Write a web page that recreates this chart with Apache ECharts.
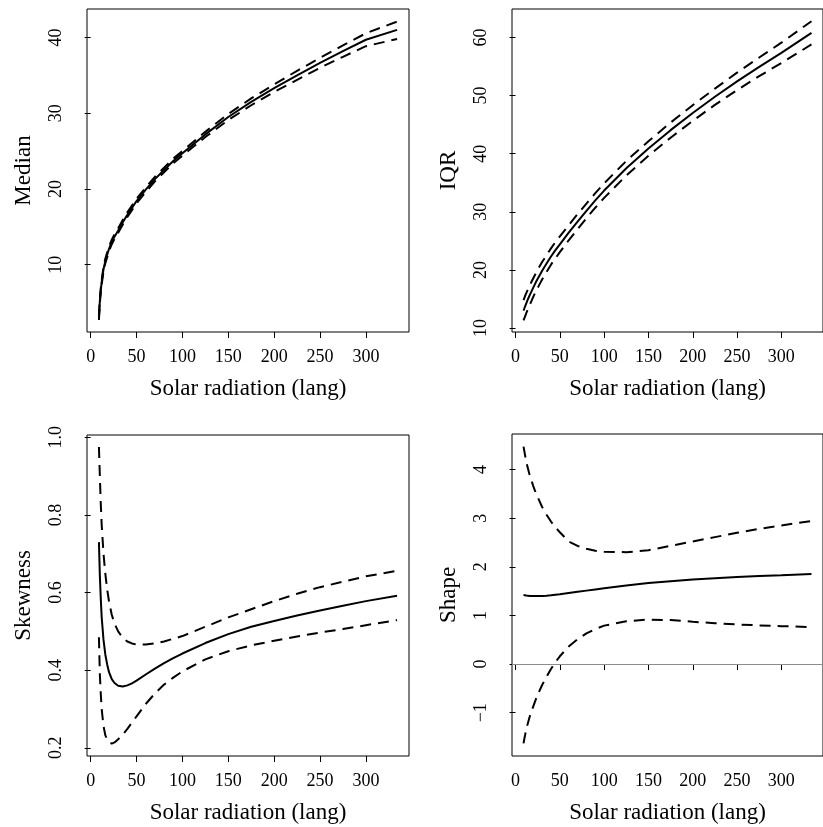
<!DOCTYPE html>
<html>
<head>
<meta charset="utf-8">
<script src="https://cdn.jsdelivr.net/npm/echarts@6/dist/echarts.min.js"></script>
<style>
  html, body { margin: 0; padding: 0; background: #fff; overflow: hidden; }
  #chart { width: 823px; height: 827px; }
</style>
</head>
<body>
<div id="chart"></div>
<script>
// solar radiation values where the fitted curves were evaluated
const radiation = [9, 10, 11, 12, 14, 16, 18, 20, 23, 26, 30, 35, 40, 45, 50, 60, 70, 80, 90, 100, 125, 150, 175, 200, 225, 250, 275, 300, 334];

const medianFit   = [3.0, 5.2, 6.6, 7.7, 9.4, 10.5, 11.3, 12.1, 13.0, 13.7, 14.5, 15.6, 16.6, 17.5, 18.4, 19.9, 21.3, 22.5, 23.7, 24.7, 27.2, 29.5, 31.5, 33.3, 35.0, 36.65, 38.2, 39.7, 41.0];
const medianUpper = [3.3, 5.5, 6.9, 8.0, 9.7, 10.8, 11.6, 12.4, 13.3, 14.0, 14.8, 15.9, 16.9, 17.8, 18.7, 20.2, 21.6, 22.8, 24.0, 25.0, 27.55, 29.9, 31.95, 33.8, 35.6, 37.3, 38.95, 40.55, 42.1];
const medianLower = [2.7, 4.9, 6.3, 7.4, 9.1, 10.2, 11.0, 11.8, 12.7, 13.4, 14.2, 15.3, 16.3, 17.2, 18.1, 19.6, 21.0, 22.2, 23.4, 24.4, 26.85, 29.1, 31.05, 32.8, 34.4, 36.0, 37.45, 38.85, 39.8];

const iqrFit   = [13.0, 13.4, 13.8, 14.2, 14.95, 15.65, 16.3, 16.95, 17.9, 18.75, 19.85, 21.1, 22.3, 23.4, 24.4, 26.4, 28.3, 30.15, 31.95, 33.65, 37.5, 40.9, 44.05, 47.0, 49.8, 52.45, 54.95, 57.35, 60.8];
const iqrUpper = [14.8, 15.2, 15.6, 15.95, 16.65, 17.3, 17.95, 18.55, 19.45, 20.3, 21.35, 22.55, 23.7, 24.8, 25.75, 27.7, 29.6, 31.4, 33.2, 34.9, 38.75, 42.15, 45.35, 48.35, 51.2, 53.95, 56.55, 59.1, 62.8];
const iqrLower = [11.3, 11.7, 12.1, 12.5, 13.25, 14.0, 14.65, 15.35, 16.35, 17.2, 18.35, 19.65, 20.9, 22.0, 23.05, 25.1, 27.0, 28.9, 30.7, 32.4, 36.25, 39.65, 42.75, 45.65, 48.4, 50.95, 53.35, 55.6, 58.8];

const skewFit   = [0.73, 0.645, 0.585, 0.537, 0.478, 0.44, 0.415, 0.395, 0.377, 0.367, 0.36, 0.358, 0.361, 0.366, 0.373, 0.389, 0.404, 0.418, 0.431, 0.443, 0.47, 0.493, 0.512, 0.527, 0.541, 0.554, 0.566, 0.578, 0.592];
const skewUpper = [0.975, 0.9, 0.83, 0.775, 0.7, 0.648, 0.608, 0.577, 0.543, 0.52, 0.5, 0.483, 0.474, 0.469, 0.466, 0.466, 0.469, 0.474, 0.481, 0.488, 0.512, 0.536, 0.557, 0.578, 0.597, 0.614, 0.628, 0.642, 0.656];
const skewLower = [0.485, 0.39, 0.34, 0.3, 0.256, 0.232, 0.222, 0.214, 0.211, 0.214, 0.222, 0.234, 0.249, 0.265, 0.281, 0.313, 0.34, 0.363, 0.381, 0.397, 0.428, 0.449, 0.464, 0.476, 0.487, 0.497, 0.506, 0.516, 0.529];

const shapeFit   = [1.42, 1.42, 1.415, 1.41, 1.405, 1.4, 1.398, 1.397, 1.397, 1.398, 1.4, 1.406, 1.415, 1.425, 1.435, 1.46, 1.485, 1.51, 1.535, 1.56, 1.615, 1.665, 1.705, 1.74, 1.765, 1.79, 1.81, 1.825, 1.85];
const shapeUpper = [4.47, 4.37, 4.27, 4.16, 4.02, 3.88, 3.77, 3.66, 3.51, 3.39, 3.23, 3.07, 2.93, 2.81, 2.71, 2.52, 2.43, 2.37, 2.33, 2.31, 2.3, 2.34, 2.43, 2.52, 2.61, 2.7, 2.78, 2.85, 2.94];
const shapeLower = [-1.63, -1.53, -1.44, -1.34, -1.21, -1.08, -0.97, -0.87, -0.72, -0.59, -0.43, -0.26, -0.1, 0.04, 0.16, 0.36, 0.51, 0.63, 0.72, 0.79, 0.88, 0.915, 0.905, 0.87, 0.84, 0.815, 0.795, 0.78, 0.76];

const xTicks = [0, 50, 100, 150, 200, 250, 300];
const medianTicks = [10, 20, 30, 40];
const iqrTicks = [10, 20, 30, 40, 50, 60];
const skewTicks = [0.2, 0.4, 0.6, 0.8, 1.0];
const shapeTicks = [-1, 0, 1, 2, 3, 4];

const xTitle = 'Solar radiation (lang)';
const font = 'Liberation Serif';

const panels = [
  { name: 'Median',   fit: medianFit, upper: medianUpper, lower: medianLower, ticks: medianTicks, min: 1.11,  max: 43.76, dec: 0,
    grid: { left: 87, top: 9, width: 322, height: 323 } },
  { name: 'IQR',      fit: iqrFit,    upper: iqrUpper,    lower: iqrLower,    ticks: iqrTicks,    min: 9.31,  max: 64.9,  dec: 0,
    grid: { left: 512, top: 9, width: 322, height: 323 } },
  { name: 'Skewness', fit: skewFit,   upper: skewUpper,   lower: skewLower,   ticks: skewTicks,   min: 0.179, max: 1.006, dec: 1,
    grid: { left: 87, top: 435, width: 322, height: 321 } },
  { name: 'Shape',    fit: shapeFit,  upper: shapeUpper,  lower: shapeLower,  ticks: shapeTicks,  min: -1.89, max: 4.73,  dec: 0,
    grid: { left: 512, top: 434, width: 322, height: 322 }, zeroLine: true }
];

function pairs(ys) {
  return radiation.map((x, i) => [x, ys[i]]);
}

const grids = [], xAxes = [], yAxes = [], series = [];

panels.forEach((p, k) => {
  grids.push(Object.assign({ show: true, borderColor: '#000', borderWidth: 1, backgroundColor: 'transparent' }, p.grid));
  xAxes.push({
    gridIndex: k, type: 'value', min: -4, max: 347,
    splitLine: { show: false },
    axisLine: { show: false },
    axisTick: { show: true, length: 6, customValues: xTicks, lineStyle: { color: '#000', width: 1 } },
    axisLabel: { customValues: xTicks, margin: 16, color: '#000', fontFamily: font, fontSize: 18 },
    name: xTitle, nameLocation: 'middle', nameGap: 45,
    nameTextStyle: { color: '#000', fontFamily: font, fontSize: 23 }
  });
  yAxes.push({
    gridIndex: k, type: 'value', min: p.min, max: p.max,
    splitLine: { show: false },
    axisLine: { show: false },
    axisTick: { show: true, length: 6, customValues: p.ticks, lineStyle: { color: '#000', width: 1 } },
    axisLabel: {
      customValues: p.ticks, rotate: 90, margin: 22, color: '#000', fontFamily: font, fontSize: 18,
      formatter: v => v.toFixed(p.dec).replace('-', '\u2212')
    },
    name: p.name, nameLocation: 'middle', nameGap: 52, nameRotate: 90,
    nameTextStyle: { color: '#000', fontFamily: font, fontSize: 23 }
  });
  const base = { type: 'line', xAxisIndex: k, yAxisIndex: k, showSymbol: false, silent: true, clip: true };
  const fitSeries = Object.assign({}, base, {
    data: pairs(p.fit),
    lineStyle: { color: '#000', width: 2 }
  });
  if (p.zeroLine) {
    fitSeries.markLine = {
      silent: true, symbol: 'none', label: { show: false },
      lineStyle: { color: '#8c8c8c', width: 1, type: 'solid' },
      data: [{ yAxis: 0 }]
    };
  }
  series.push(fitSeries);
  [p.upper, p.lower].forEach(band => {
    series.push(Object.assign({}, base, {
      data: pairs(band),
      lineStyle: { color: '#000', width: 2, type: [11, 7] }
    }));
  });
});

const chart = echarts.init(document.getElementById('chart'));
chart.setOption({
  animation: false,
  backgroundColor: '#fff',
  grid: grids,
  xAxis: xAxes,
  yAxis: yAxes,
  series: series
});
</script>
</body>
</html>
